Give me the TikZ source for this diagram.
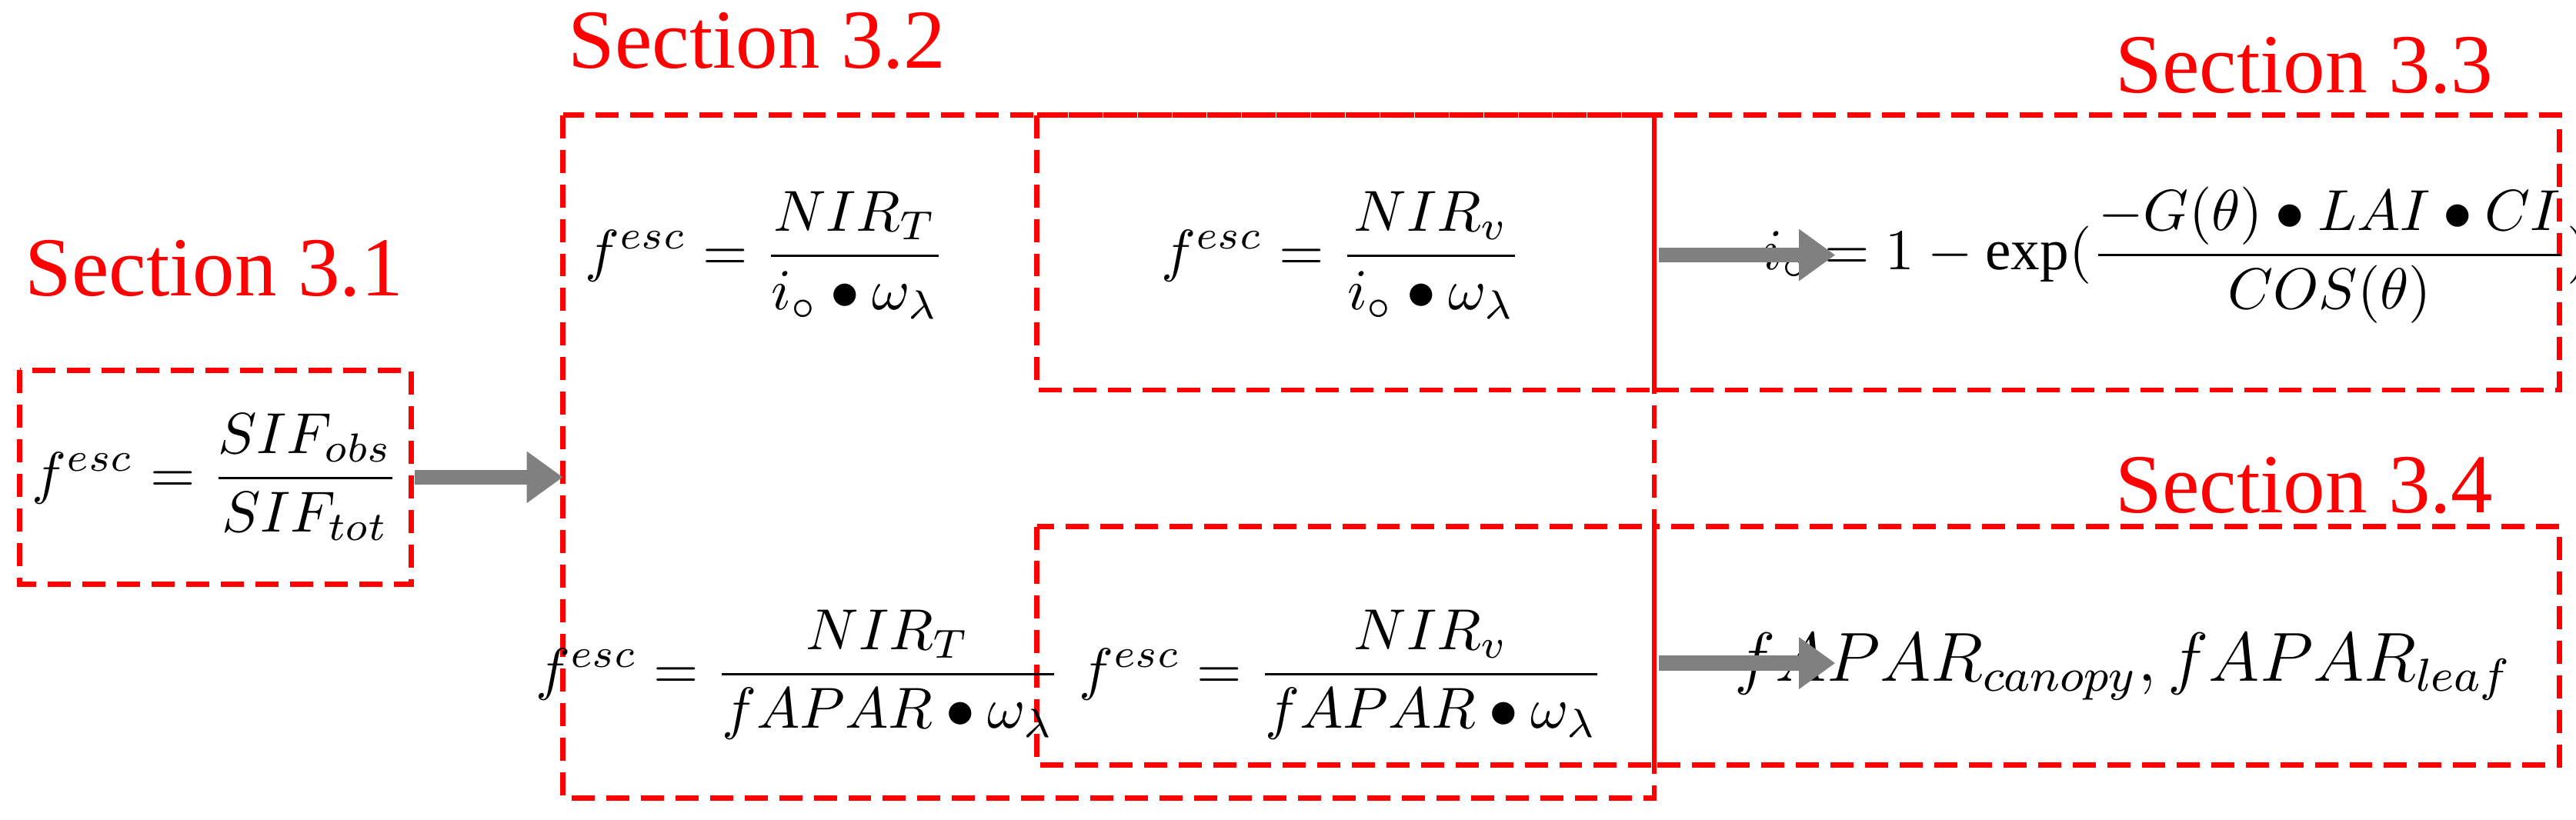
\documentclass[tikz,border=0pt]{standalone}
\usepackage{amsmath}
\usepackage{fontspec}
\setmainfont{Liberation Serif}
\usetikzlibrary{arrows.meta}
\begin{document}
\begin{tikzpicture}[x=0.01cm,y=-0.01cm,
 box/.style={draw=red,line width=0.9pt,dash pattern=on 0.14cm off 0.07cm},
 lab/.style={text=red,font=\fontsize{14.5}{16}\selectfont},
 eq/.style={font=\fontsize{10}{12}\selectfont},
 arr/.style={draw=gray,line width=0.09cm,-{Triangle[length=0.22cm,width=0.3cm]}}]
\useasboundingbox (0,0) rectangle (1565,498);
\draw[box] (12,225) rectangle (250,355);
\draw[box] (342,70) rectangle (1005,485);
\draw[box] (630,70) rectangle (1005,237);
\draw[box] (1005,70) rectangle (1555,237);
\draw[box] (630,320) rectangle (1005,465);
\draw[box] (1005,320) rectangle (1555,465);
\node[lab] (l31) at (130,163) {Section 3.1};
\node[lab] (l32) at (460,25) {Section 3.2};
\node[lab] (l33) at (1400,40) {Section 3.3};
\node[lab] (l34) at (1400,295) {Section 3.4};
\node[eq] (e31) at (131,290) {$f^{esc}=\dfrac{SIF_{obs}}{SIF_{tot}}$};
\node[eq] (e1) at (465,155) {$f^{esc}=\dfrac{NIR_{T}}{i_{\circ}\bullet\omega_{\lambda}}$};
\node[eq] (e2) at (815,155) {$f^{esc}=\dfrac{NIR_{v}}{i_{\circ}\bullet\omega_{\lambda}}$};
\node[eq] (e3) at (485,410) {$f^{esc}=\dfrac{NIR_{T}}{fAPAR\bullet\omega_{\lambda}}$};
\node[eq] (e4) at (815,410) {$f^{esc}=\dfrac{NIR_{v}}{fAPAR\bullet\omega_{\lambda}}$};
\node[eq] (e5) at (1322,155) {$i_{\circ}=1-\exp(\dfrac{-G(\theta)\bullet LAI\bullet CI}{COS(\theta)})$};
\node[eq,font=\fontsize{11.5}{14}\selectfont] (e6) at (1290,405) {$fAPAR_{canopy}, fAPAR_{leaf}$};
\coordinate (a1s) at (252,290); \coordinate (a1e) at (342,290);
\coordinate (a2s) at (1008,155); \coordinate (a2e) at (1115,155);
\coordinate (a3s) at (1008,403); \coordinate (a3e) at (1115,403);
\draw[arr] (a1s) -- (a1e);
\draw[arr] (a2s) -- (a2e);
\draw[arr] (a3s) -- (a3e);
\end{tikzpicture}
\end{document}
